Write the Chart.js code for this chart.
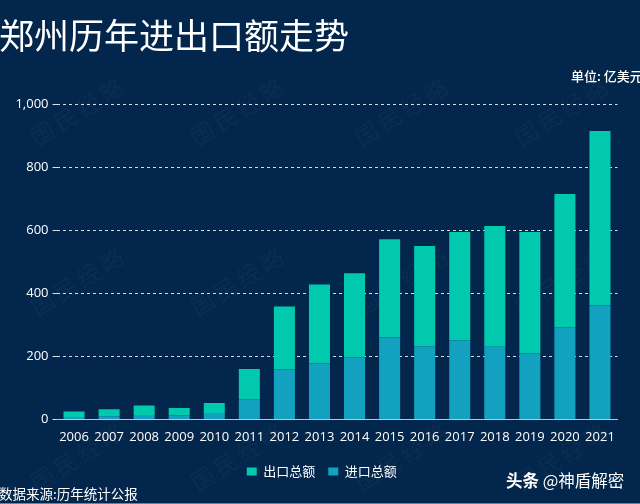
<!DOCTYPE html>
<html>
<head>
<meta charset="utf-8">
<script src="https://cdn.jsdelivr.net/npm/chart.js@4"></script>
<style>
    html, body { margin: 0; padding: 0; background: #03264c; }
    body { width: 640px; height: 504px; position: relative; overflow: hidden; font-family: "Noto Sans CJK SC", sans-serif; color: #fff; }
    #wrap { position: absolute; left: 0; top: 0; width: 640px; height: 504px; }
    .txt { position: absolute; white-space: nowrap; }
    .mark { position: absolute; white-space: nowrap; font-family: "Noto Sans CJK SC"; font-size: 23px; letter-spacing: 4px; color: rgba(255, 255, 255, 0.05); transform: translate(-50%, -50%) rotate(-32deg); }
    #baseline { position: absolute; left: 0; top: 503px; width: 640px; height: 1px; background: #5d86a8; }
</style>
</head>
<body>
<div id="marks"></div>
<div id="wrap"><canvas id="chartDagang"></canvas></div>
<div class="txt" style="left:-1px;top:11px;font-size:35px;line-height:46px;">郑州历年进出口额走势</div>
<div class="txt" style="left:571px;top:67px;font-size:13px;line-height:18px;font-weight:500;">单位: 亿美元</div>
<div class="txt" style="left:-1px;top:484px;font-size:13.5px;line-height:18px;">数据来源:历年统计公报</div>
<div class="txt" style="left:506px;top:468px;font-size:16.5px;line-height:24px;"><b>头条</b> @神盾解密</div>
<div id="baseline"></div>
<script>
const years = ['2006', '2007', '2008', '2009', '2010', '2011', '2012', '2013', '2014', '2015', '2016', '2017', '2018', '2019', '2020', '2021'];
const imports = [8, 10, 14, 12, 20, 64, 158, 178, 197, 260, 232, 250, 230, 210, 292, 362];
const exportsTotal = [17, 22, 30, 24, 32, 96, 200, 250, 266, 311, 318, 344, 383, 384, 423, 552];
const yTicks = [0, 200, 400, 600, 800, 1000];

// watermark grid
const markXs = [78, 238, 402, 562];
const markYs = [110, 280, 455];
const marksEl = document.getElementById('marks');
markYs.forEach(y => markXs.forEach(x => {
    const s = document.createElement('span');
    s.className = 'mark';
    s.style.left = x + 'px';
    s.style.top = y + 'px';
    s.textContent = '国民经略';
    marksEl.appendChild(s);
}));

// legend sits a bit right of the canvas centre in the reference
const geserLegend = {
    id: 'geserLegend',
    afterLayout(chart) {
        chart.legend.left += 13;
        chart.legend.right += 13;
    }
};

const ctx = document.getElementById('chartDagang').getContext('2d');
new Chart(ctx, {
    type: 'bar',
    plugins: [geserLegend],
    data: {
        labels: years,
        datasets: [
            { label: '进口总额', data: imports, backgroundColor: '#12a1bf', borderWidth: 0, barPercentage: 0.6, categoryPercentage: 1 },
            { label: '出口总额', data: exportsTotal, backgroundColor: '#00c9ae', borderWidth: 0, barPercentage: 0.6, categoryPercentage: 1 }
        ]
    },
    options: {
        responsive: true,
        maintainAspectRatio: false,
        animation: false,
        layout: { padding: { left: 0, right: 22.5, top: 104, bottom: 16 } },
        scales: {
            x: {
                stacked: true,
                afterFit: axis => { axis.height += 1; },
                grid: { display: false, drawTicks: true, tickLength: 4, tickColor: '#b9c6d2' },
                border: { color: '#b9c6d2', width: 1 },
                ticks: { color: '#ffffff', font: { family: 'Open Sans', size: 13 }, maxRotation: 0, autoSkip: false, padding: 6 }
            },
            y: {
                stacked: true,
                min: 0,
                max: 1000,
                afterBuildTicks: axis => { axis.ticks = yTicks.map(v => ({ value: v })); },
                afterFit: axis => { axis.width = 56.5; },
                grid: { color: 'rgba(255,255,255,0.85)', tickLength: 4, tickColor: 'rgba(255,255,255,0.85)', lineWidth: 1 },
                border: { display: false, dash: [3, 3] },
                ticks: {
                    color: '#ffffff',
                    font: { family: 'Open Sans', size: 13 },
                    padding: 4,
                    callback: v => Number(v).toLocaleString('en-US')
                }
            }
        },
        plugins: {
            legend: {
                position: 'bottom',
                reverse: true,
                labels: {
                    color: '#ffffff',
                    font: { family: 'Noto Sans CJK SC', size: 13 },
                    boxWidth: 10,
                    boxHeight: 8,
                    padding: 13
                }
            },
            tooltip: { enabled: false }
        }
    }
});
</script>
</body>
</html>
